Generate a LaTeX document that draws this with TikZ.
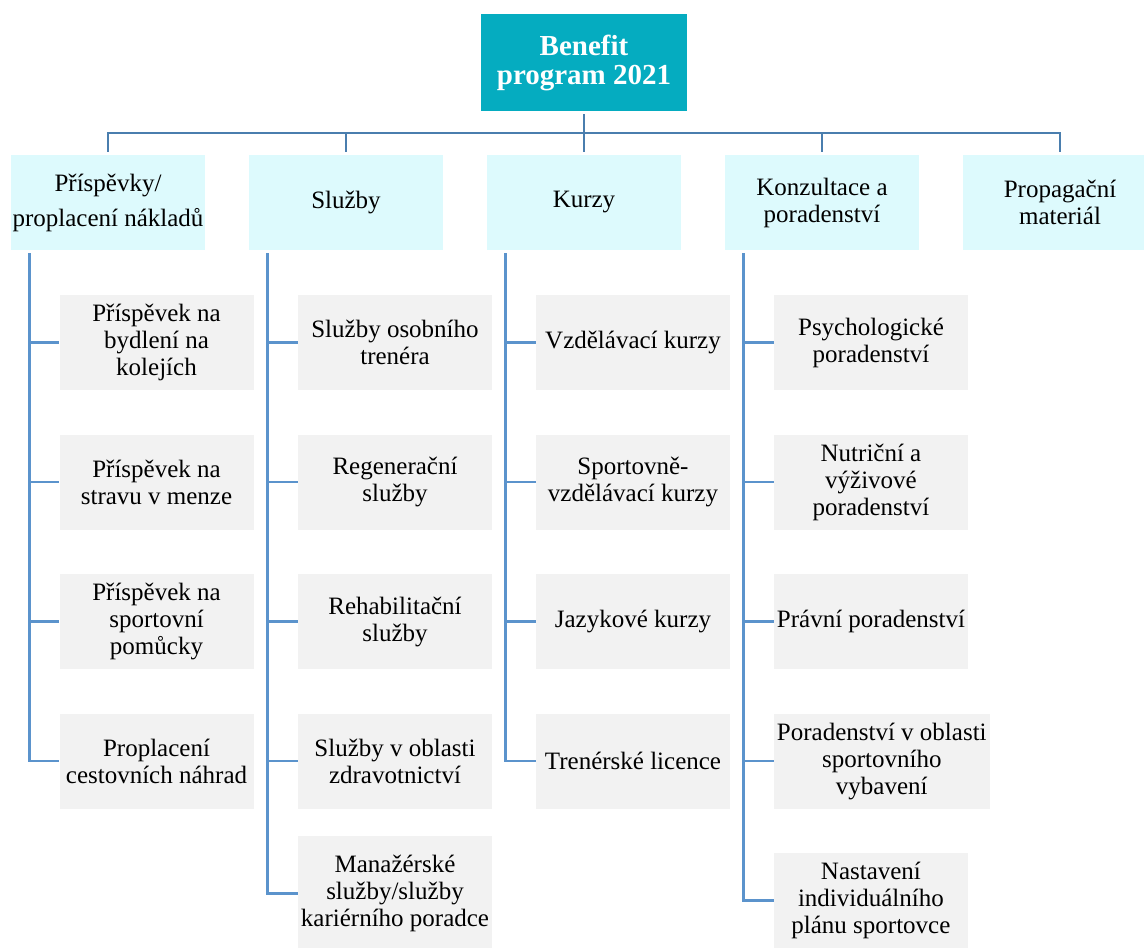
\documentclass[tikz,border=0pt]{standalone}
\usepackage{fontspec}
\setmainfont{LiberationSerif}[Extension = .ttf, UprightFont = *-Regular, BoldFont = *-Bold, ItalicFont = *-Italic, BoldItalicFont = *-BoldItalic]
\usetikzlibrary{positioning}
\definecolor{topfill}{HTML}{05ACC0}
\definecolor{catfill}{HTML}{DDFAFD}
\definecolor{itemfill}{HTML}{F2F2F2}
\definecolor{busline}{HTML}{4A7EAE}
\definecolor{linkline}{HTML}{5B93CC}
\tikzset{
  rect1/.style = {
    shape = rectangle,
    fill = topfill,
    text = white,
    align = center,
    minimum width = 154.5pt,
    minimum height = 72.75pt,
    inner sep = 2pt,
    font = \bfseries\fontsize{21.75pt}{21.75pt}\selectfont,
  }
}
\tikzset{
  rect2/.style = {
    shape = rectangle,
    fill = catfill,
    align = center,
    minimum width = 145.5pt,
    minimum height = 71.25pt,
    inner sep = 1pt,
    font = \fontsize{18.75pt}{20.25pt}\selectfont,
  }
}
\tikzset{
  rect3/.style = {
    shape = rectangle,
    fill = itemfill,
    align = center,
    minimum width = 145.5pt,
    minimum height = 71.25pt,
    inner sep = 2.25pt,
    font = \fontsize{18.75pt}{20.25pt}\selectfont,
  }
}
\tikzset{
  line1/.style = {draw = busline, line width = 2pt},
  line2/.style = {draw = linkline, line width = 2pt},
}

\begin{document}
\begin{tikzpicture}[x = 0.75pt, y = -0.75pt, node distance = 33pt]
        \useasboundingbox (0,0) rectangle (1144,947);
        \node[rect1](0) at (584,62.5){Benefit\\program 2021};
        \node[rect2](1) at (108,202.5){Příspěvky/\\[6pt]proplacení nákladů};
        \node[rect2](2) at (346,202.5){Služby};
        \node[rect2](3) at (584,202.5){Kurzy};
        \node[rect2](4) at (822,202.5){Konzultace a\\poradenství};
        \node[rect2](5) at (1060,202.5){Propagační\\materiál};
        % first column
        \node[rect3](11) at (156.5,342.5){Příspěvek na\\bydlení na\\kolejích};
        \node[rect3, below=of 11](12){Příspěvek na\\stravu v menze};
        \node[rect3, below=of 12](13){Příspěvek na\\sportovní\\pomůcky};
        \node[rect3, below=of 13](14){Proplacení\\cestovních náhrad};
        % second column
        \node[rect3](21) at (395,342.5){Služby osobního\\trenéra};
        \node[rect3, below=of 21](22){Regenerační\\služby};
        \node[rect3, below=of 22](23){Rehabilitační\\služby};
        \node[rect3, below=of 23](24){Služby v oblasti\\zdravotnictví};
        \node[rect3, below=20.25pt of 24, minimum height = 86.25pt](25){Manažérské\\služby/služby\\kariérního poradce};
        % third column
        \node[rect3](31) at (633,342.5){Vzdělávací kurzy};
        \node[rect3, below=of 31](32){Sportovně-\\vzdělávací kurzy};
        \node[rect3, below=of 32](33){Jazykové kurzy};
        \node[rect3, below=of 33](34){Trenérské licence};
        % fourth column
        \node[rect3](41) at (871,342.5){Psychologické\\poradenství};
        \node[rect3, below=of 41](42){Nutriční a\\výživové\\poradenství};
        \node[rect3, below=of 42](43){Právní poradenství};
        \node[rect3, below=of 43.south west, anchor=north west](44){Poradenství v oblasti\\sportovního\\vybavení};
        \node[rect3, below=of 44.south west, anchor=north west](45){Nastavení\\individuálního\\plánu sportovce};
        % bus
        \coordinate (hub) at (584,133);
        \draw[line1]([yshift=-2.25pt]0.south) -- ([yshift=2.25pt]0.south |- 3.north);
        \draw[line1]([yshift=2.25pt]1.north) |- (hub) -| ([yshift=2.25pt]5.north);
        \draw[line1]([yshift=2.25pt]2.north) -- (2.north |- hub);
        \draw[line1]([yshift=2.25pt]4.north) -- (4.north |- hub);
        % links
        \draw[line2]([xshift=14.25pt, yshift=-2.25pt]1.south west) |- (11.west);
        \draw[line2]([xshift=14.25pt, yshift=-2.25pt]1.south west) |- (12.west);
        \draw[line2]([xshift=14.25pt, yshift=-2.25pt]1.south west) |- (13.west);
        \draw[line2]([xshift=14.25pt, yshift=-2.25pt]1.south west) |- (14.west);
        \draw[line2]([xshift=14.25pt, yshift=-2.25pt]2.south west) |- (21.west);
        \draw[line2]([xshift=14.25pt, yshift=-2.25pt]2.south west) |- (22.west);
        \draw[line2]([xshift=14.25pt, yshift=-2.25pt]2.south west) |- (23.west);
        \draw[line2]([xshift=14.25pt, yshift=-2.25pt]2.south west) |- (24.west);
        \draw[line2]([xshift=14.25pt, yshift=-2.25pt]2.south west) |- (25.west);
        \draw[line2]([xshift=14.25pt, yshift=-2.25pt]3.south west) |- (31.west);
        \draw[line2]([xshift=14.25pt, yshift=-2.25pt]3.south west) |- (32.west);
        \draw[line2]([xshift=14.25pt, yshift=-2.25pt]3.south west) |- (33.west);
        \draw[line2]([xshift=14.25pt, yshift=-2.25pt]3.south west) |- (34.west);
        \draw[line2]([xshift=14.25pt, yshift=-2.25pt]4.south west) |- (41.west);
        \draw[line2]([xshift=14.25pt, yshift=-2.25pt]4.south west) |- (42.west);
        \draw[line2]([xshift=14.25pt, yshift=-2.25pt]4.south west) |- (43.west);
        \draw[line2]([xshift=14.25pt, yshift=-2.25pt]4.south west) |- (44.west);
        \draw[line2]([xshift=14.25pt, yshift=-2.25pt]4.south west) |- (45.west);
    \end{tikzpicture}
\end{document}
